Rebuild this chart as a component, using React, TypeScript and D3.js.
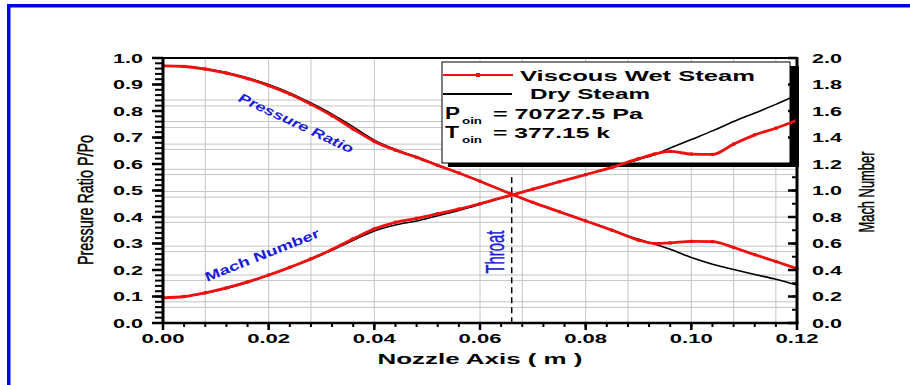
import * as d3 from 'd3';

// nozzle axis positions (m)
const nozzleX = [0, 0.004, 0.008, 0.012, 0.016, 0.02, 0.024, 0.028, 0.032, 0.036, 0.04, 0.044, 0.048, 0.052, 0.056, 0.06, 0.066, 0.07, 0.075, 0.08, 0.085, 0.09, 0.093, 0.096, 0.1, 0.104, 0.108, 0.112, 0.116, 0.12];

const pressureDry = [0.97, 0.968, 0.96, 0.945, 0.925, 0.9, 0.868, 0.83, 0.788, 0.74, 0.69, 0.655, 0.627, 0.596, 0.566, 0.535, 0.486, 0.455, 0.42, 0.386, 0.351, 0.316, 0.298, 0.278, 0.247, 0.222, 0.202, 0.183, 0.165, 0.143];
const pressureWet = [0.97, 0.968, 0.958, 0.943, 0.922, 0.896, 0.864, 0.825, 0.782, 0.732, 0.685, 0.652, 0.625, 0.595, 0.566, 0.535, 0.486, 0.455, 0.42, 0.385, 0.35, 0.313, 0.3, 0.302, 0.308, 0.307, 0.285, 0.258, 0.232, 0.205];

const machDry = [0.19, 0.2, 0.225, 0.26, 0.305, 0.36, 0.42, 0.48, 0.55, 0.625, 0.695, 0.74, 0.77, 0.81, 0.85, 0.895, 0.966, 1.01, 1.066, 1.12, 1.175, 1.235, 1.27, 1.32, 1.385, 1.45, 1.52, 1.585, 1.65, 1.72];
const machWet = [0.19, 0.2, 0.228, 0.265, 0.31, 0.362, 0.42, 0.485, 0.555, 0.635, 0.71, 0.76, 0.79, 0.825, 0.86, 0.9, 0.966, 1.01, 1.066, 1.12, 1.175, 1.24, 1.275, 1.295, 1.275, 1.272, 1.35, 1.42, 1.47, 1.53];

const xTicks = [0, 0.02, 0.04, 0.06, 0.08, 0.1, 0.12];
const xTickLabels = ['0.00', '0.02', '0.04', '0.06', '0.08', '0.10', '0.12'];
const leftTicks = [0, 0.1, 0.2, 0.3, 0.4, 0.5, 0.6, 0.7, 0.8, 0.9, 1.0];
const leftTickLabels = ['0.0', '0.1', '0.2', '0.3', '0.4', '0.5', '0.6', '0.7', '0.8', '0.9', '1.0'];
const rightTicks = [0, 0.2, 0.4, 0.6, 0.8, 1.0, 1.2, 1.4, 1.6, 1.8, 2.0];
const rightTickLabels = ['0.0', '0.2', '0.4', '0.6', '0.8', '1.0', '1.2', '1.4', '1.6', '1.8', '2.0'];

const gridX = [0.008, 0.02, 0.028, 0.04, 0.06, 0.068, 0.08, 0.088, 0.1, 0.108, 0.116];
const gridY = [0.059, 0.08, 0.16, 0.181, 0.27, 0.29, 0.38, 0.4, 0.475, 0.496, 0.56, 0.58, 0.655, 0.675, 0.738, 0.76, 0.819, 0.8415];

const throatX = 0.066;

const W = 910;
const H = 385;
const left = 163, right = 797, top = 58, bottom = 323;

const boldFont = '"Liberation Sans", Arial, sans-serif';
const narrowFont = '"Liberation Sans Narrow", "Liberation Sans", Arial, sans-serif';
const BLUE = '#1a1ad8';
const RED = '#f01010';

export default function App() {
  const x = d3.scaleLinear().domain([0, 0.12]).range([left, right]);
  const yL = d3.scaleLinear().domain([0, 1]).range([bottom, top]);
  const yR = d3.scaleLinear().domain([0, 2]).range([bottom, top]);

  const lineL = d3.line<number>().x((_, i) => x(nozzleX[i])).y((d) => yL(d)).curve(d3.curveMonotoneX);
  const lineR = d3.line<number>().x((_, i) => x(nozzleX[i])).y((d) => yR(d)).curve(d3.curveMonotoneX);

  const minorX = d3.range(0, 0.1201, 0.004);
  const minorL = d3.range(0, 1.001, 0.02);
  const minorR = d3.range(0, 2.001, 0.1);

  return (
    <svg width={W} height={H} style={{ position: 'absolute', left: 0, top: 0, background: '#fff' }}>
      <rect x={0} y={0} width={W} height={H} fill="#fff" />
      {/* blue frame */}
      <rect x={7} y={4} width={W - 7} height={3.5} fill="#0000f0" />
      <rect x={7} y={4} width={3.5} height={H - 4} fill="#0000f0" />

      {/* grid */}
      {gridX.map((g) => (
        <line key={'gx' + g} x1={x(g)} x2={x(g)} y1={top} y2={bottom} stroke="#c4c4c4" strokeWidth={1} />
      ))}
      {gridY.map((g) => (
        <line key={'gy' + g} x1={left} x2={right} y1={yL(g)} y2={yL(g)} stroke="#c4c4c4" strokeWidth={1} />
      ))}

      {/* legend box with shadow */}
      <rect x={448} y={66} width={351} height={101} fill="#000" />
      <rect x={442} y={62} width={348} height={101} fill="#fff" stroke="#000" strokeWidth={1} />

      {/* throat */}
      <line x1={x(throatX)} x2={x(throatX)} y1={yL(0.55)} y2={bottom} stroke="#000" strokeWidth={1.5} strokeDasharray="6 4" />

      {/* dry steam */}
      <path d={lineL(pressureDry) ?? ''} fill="none" stroke="#000" strokeWidth={1.6} />
      <path d={lineR(machDry) ?? ''} fill="none" stroke="#000" strokeWidth={1.6} />

      {/* viscous wet steam */}
      <path d={lineL(pressureWet) ?? ''} fill="none" stroke={RED} strokeWidth={2.8} />
      <path d={lineR(machWet) ?? ''} fill="none" stroke={RED} strokeWidth={2.8} />
      {pressureWet.map((d, i) => (
        <rect key={'pm' + i} x={x(nozzleX[i]) - 1.6} y={yL(d) - 1.6} width={3.2} height={3.2} fill={RED} />
      ))}
      {machWet.map((d, i) => (
        <rect key={'mm' + i} x={x(nozzleX[i]) - 1.6} y={yR(d) - 1.6} width={3.2} height={3.2} fill={RED} />
      ))}

      {/* legend content */}
      <line x1={443} x2={513} y1={75} y2={75} stroke={RED} strokeWidth={2} />
      <rect x={476} y={73} width={4} height={4} fill={RED} />
      <text x={520} y={81} fontFamily={boldFont} fontWeight="bold" fontSize={15} textLength={235} lengthAdjust="spacingAndGlyphs">Viscous Wet Steam</text>
      <line x1={443} x2={512} y1={94} y2={94} stroke="#000" strokeWidth={2} />
      <text x={530} y={99} fontFamily={boldFont} fontWeight="bold" fontSize={15} textLength={120} lengthAdjust="spacingAndGlyphs">Dry Steam</text>
      <text x={445} y={119} fontFamily={boldFont} fontWeight="bold" fontSize={16} textLength={15} lengthAdjust="spacingAndGlyphs">P</text>
      <text x={462} y={124} fontFamily={boldFont} fontWeight="bold" fontSize={9} textLength={20} lengthAdjust="spacingAndGlyphs">oin</text>
      <text x={493} y={119} fontFamily={boldFont} fontWeight="bold" fontSize={15} textLength={150} lengthAdjust="spacingAndGlyphs">= 70727.5 Pa</text>
      <text x={445} y={138} fontFamily={boldFont} fontWeight="bold" fontSize={16} textLength={14} lengthAdjust="spacingAndGlyphs">T</text>
      <text x={462} y={143} fontFamily={boldFont} fontWeight="bold" fontSize={9} textLength={20} lengthAdjust="spacingAndGlyphs">oin</text>
      <text x={493} y={138} fontFamily={boldFont} fontWeight="bold" fontSize={15} textLength={117} lengthAdjust="spacingAndGlyphs">= 377.15 k</text>

      {/* annotations */}
      <text transform="translate(296,123) rotate(25)" textAnchor="middle" dy="0.35em" fill={BLUE} fontFamily={boldFont} fontStyle="italic" fontWeight="bold" fontSize={13} textLength={125} lengthAdjust="spacingAndGlyphs">Pressure Ratio</text>
      <text transform="translate(262,255) rotate(-21.7)" textAnchor="middle" dy="0.35em" fill={BLUE} fontFamily={boldFont} fontWeight="bold" fontSize={13} textLength={122} lengthAdjust="spacingAndGlyphs">Mach Number</text>
      <text transform="translate(495,252) rotate(-90)" textAnchor="middle" dy="0.35em" fill={BLUE} stroke={BLUE} strokeWidth={0.4} fontFamily={narrowFont} fontSize={25} textLength={43} lengthAdjust="spacingAndGlyphs">Throat</text>

      {/* axes frame */}
      <line x1={left} x2={right} y1={top} y2={top} stroke="#000" strokeWidth={2} />
      <line x1={left} x2={right + 1.5} y1={bottom} y2={bottom} stroke="#000" strokeWidth={2.5} />
      <line x1={left} x2={left} y1={top - 1} y2={bottom + 1} stroke="#000" strokeWidth={3} />
      <line x1={right} x2={right} y1={top - 1} y2={bottom + 1} stroke="#000" strokeWidth={3} />

      {/* bottom ticks */}
      {minorX.map((t) => (
        <line key={'mx' + t} x1={x(t)} x2={x(t)} y1={bottom} y2={bottom + 4} stroke="#000" strokeWidth={2} />
      ))}
      {xTicks.map((t, i) => (
        <g key={'xt' + t}>
          <line x1={x(t)} x2={x(t)} y1={bottom} y2={bottom + 7} stroke="#000" strokeWidth={2.5} />
          <text x={x(t)} y={343} textAnchor="middle" fontFamily={boldFont} fontWeight="bold" fontSize={13} textLength={43} lengthAdjust="spacingAndGlyphs">{xTickLabels[i]}</text>
        </g>
      ))}

      {/* left ticks */}
      {minorL.map((t) => (
        <line key={'ml' + t} x1={left - 8} x2={left} y1={yL(t)} y2={yL(t)} stroke="#000" strokeWidth={2} />
      ))}
      {leftTicks.map((t, i) => (
        <g key={'lt' + t}>
          <line x1={left - 11} x2={left} y1={yL(t)} y2={yL(t)} stroke="#000" strokeWidth={2.5} />
          <text x={143} y={yL(t)} dy="0.36em" textAnchor="end" fontFamily={boldFont} fontWeight="bold" fontSize={13} textLength={30} lengthAdjust="spacingAndGlyphs">{leftTickLabels[i]}</text>
        </g>
      ))}

      {/* right ticks */}
      {minorR.map((t) => (
        <line key={'mr' + t} x1={right - 5} x2={right} y1={yR(t)} y2={yR(t)} stroke="#000" strokeWidth={2} />
      ))}
      {rightTicks.map((t, i) => (
        <g key={'rt' + t}>
          <line x1={right - 9} x2={right} y1={yR(t)} y2={yR(t)} stroke="#000" strokeWidth={2.5} />
          <text x={812} y={yR(t)} dy="0.36em" textAnchor="start" fontFamily={boldFont} fontWeight="bold" fontSize={13} textLength={30} lengthAdjust="spacingAndGlyphs">{rightTickLabels[i]}</text>
        </g>
      ))}

      {/* axis titles */}
      <text x={480} y={364} textAnchor="middle" fontFamily={boldFont} fontWeight="bold" fontSize={15} textLength={205} lengthAdjust="spacingAndGlyphs">Nozzle Axis ( m )</text>
      <text transform="translate(85,200) rotate(-90)" textAnchor="middle" dy="0.35em" stroke="#000" strokeWidth={0.45} fontFamily={narrowFont} fontSize={22} textLength={130} lengthAdjust="spacingAndGlyphs">Pressure Ratio P/Po</text>
      <text transform="translate(866,192) rotate(-90)" textAnchor="middle" dy="0.35em" stroke="#000" strokeWidth={0.45} fontFamily={narrowFont} fontSize={22} textLength={81} lengthAdjust="spacingAndGlyphs">Mach Number</text>
    </svg>
  );
}
